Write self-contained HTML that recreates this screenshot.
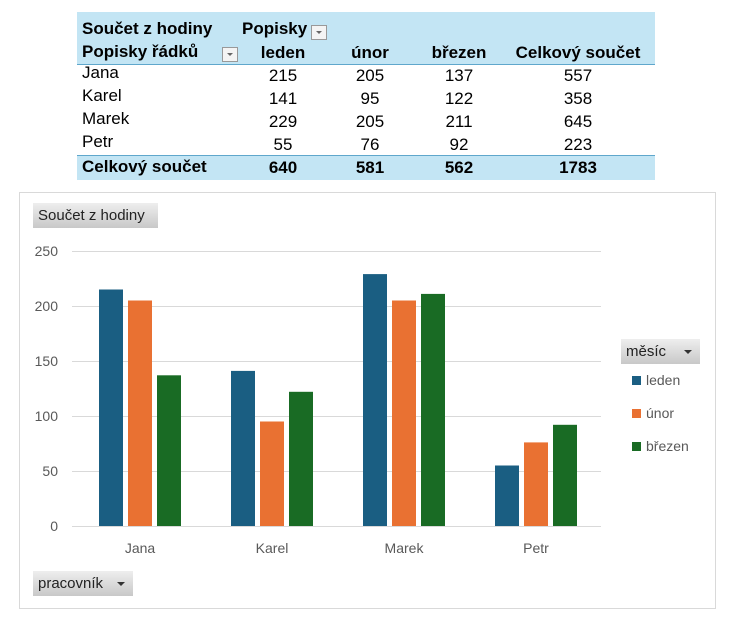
<!DOCTYPE html>
<html><head><meta charset="utf-8"><style>
body{margin:0;width:752px;height:618px;background:#fff;position:relative;font-family:"Liberation Sans",sans-serif;overflow:hidden}
.t{position:absolute;font-size:17px;color:#000;white-space:nowrap;line-height:20px}
.b{font-weight:bold}
.c{transform:translateX(-50%)}
.btn{position:absolute;background:linear-gradient(#eee,#c8c8c8);font-size:15px;color:#222;line-height:25px;padding-left:5px;box-sizing:border-box}
.dd{position:absolute;width:0;height:0;border-left:4px solid transparent;border-right:4px solid transparent;border-top:4px solid #333}
.fb{position:absolute;width:14px;height:13px;border:1px solid #999;background:#f4f4f4}
.fb:after{content:"";position:absolute;left:4px;top:5px;border-left:3px solid transparent;border-right:3px solid transparent;border-top:3px solid #666}
</style></head><body>
<div style="position:absolute;left:77px;top:12px;width:578px;height:52px;background:#c3e5f4"></div>
<div style="position:absolute;left:77px;top:64px;width:578px;height:1px;background:#5fa7cc"></div>
<div style="position:absolute;left:77px;top:155px;width:578px;height:25px;background:#c3e5f4;border-top:1px solid #5fa7cc;box-sizing:border-box"></div>
<div class="t b" style="left:82px;top:19px">Součet z hodiny</div>
<div class="t b" style="left:242px;top:19px">Popisky</div>
<div class="fb" style="left:311px;top:25px"></div>
<div class="t b" style="left:82px;top:42px">Popisky řádků</div>
<div class="fb" style="left:222px;top:47px"></div>
<div class="t b c" style="left:283px;top:43px">leden</div>
<div class="t b c" style="left:370px;top:43px">únor</div>
<div class="t b c" style="left:459px;top:43px">březen</div>
<div class="t b c" style="left:578px;top:43px">Celkový součet</div>
<div class="t" style="left:82px;top:63px">Jana</div><div class="t c" style="left:283px;top:66px">215</div><div class="t c" style="left:370px;top:66px">205</div><div class="t c" style="left:459px;top:66px">137</div><div class="t c" style="left:578px;top:66px">557</div>
<div class="t" style="left:82px;top:86px">Karel</div><div class="t c" style="left:283px;top:89px">141</div><div class="t c" style="left:370px;top:89px">95</div><div class="t c" style="left:459px;top:89px">122</div><div class="t c" style="left:578px;top:89px">358</div>
<div class="t" style="left:82px;top:109px">Marek</div><div class="t c" style="left:283px;top:112px">229</div><div class="t c" style="left:370px;top:112px">205</div><div class="t c" style="left:459px;top:112px">211</div><div class="t c" style="left:578px;top:112px">645</div>
<div class="t" style="left:82px;top:132px">Petr</div><div class="t c" style="left:283px;top:135px">55</div><div class="t c" style="left:370px;top:135px">76</div><div class="t c" style="left:459px;top:135px">92</div><div class="t c" style="left:578px;top:135px">223</div>
<div class="t b" style="left:82px;top:157px">Celkový součet</div><div class="t b c" style="left:283px;top:158px">640</div><div class="t b c" style="left:370px;top:158px">581</div><div class="t b c" style="left:459px;top:158px">562</div><div class="t b c" style="left:578px;top:158px">1783</div>

<div style="position:absolute;left:19px;top:192px;width:697px;height:417px;border:1px solid #d9d9d9;box-sizing:border-box"></div>
<div class="btn" style="left:33px;top:203px;width:125px">Součet z hodiny</div>
<div class="btn" style="left:33px;top:571px;width:100px">pracovník</div><div class="dd" style="left:117px;top:582px"></div>
<div class="btn" style="left:621px;top:339px;width:79px">měsíc</div><div class="dd" style="left:684px;top:350px"></div>
<svg width="752" height="618" style="position:absolute;left:0;top:0" font-family="Liberation Sans, sans-serif">
<g stroke="#d9d9d9" stroke-width="1">
<line x1="72" x2="601" y1="251.5" y2="251.5"/><line x1="72" x2="601" y1="306.5" y2="306.5"/><line x1="72" x2="601" y1="361.5" y2="361.5"/><line x1="72" x2="601" y1="416.5" y2="416.5"/><line x1="72" x2="601" y1="471.5" y2="471.5"/><line x1="72" x2="601" y1="526.5" y2="526.5"/>
</g>
<g fill="#595959" font-size="14" text-anchor="end">
<text x="58" y="256">250</text><text x="58" y="311">200</text><text x="58" y="366">150</text><text x="58" y="421">100</text><text x="58" y="476">50</text><text x="58" y="531">0</text>
</g>
<g fill="#595959" font-size="14" text-anchor="middle">
<text x="140" y="553">Jana</text><text x="272" y="553">Karel</text><text x="404" y="553">Marek</text><text x="536" y="553">Petr</text>
</g>
<g fill="#1a5e82"><rect x="99" y="289.5" width="24" height="236.5"/><rect x="231" y="370.9" width="24" height="155.1"/><rect x="363" y="274.1" width="24" height="251.9"/><rect x="495" y="465.5" width="24" height="60.5"/></g>
<g fill="#e97132"><rect x="128" y="300.5" width="24" height="225.5"/><rect x="260" y="421.5" width="24" height="104.5"/><rect x="392" y="300.5" width="24" height="225.5"/><rect x="524" y="442.4" width="24" height="83.6"/></g>
<g fill="#196b24"><rect x="157" y="375.3" width="24" height="150.7"/><rect x="289" y="391.8" width="24" height="134.2"/><rect x="421" y="293.9" width="24" height="232.1"/><rect x="553" y="424.8" width="24" height="101.2"/></g>
<rect x="632" y="376" width="9" height="9" fill="#1a5e82"/><rect x="632" y="409" width="9" height="9" fill="#e97132"/><rect x="632" y="442" width="9" height="9" fill="#196b24"/>
<g fill="#595959" font-size="14"><text x="646" y="385">leden</text><text x="646" y="418">únor</text><text x="646" y="451">březen</text></g>
</svg>
</body></html>
